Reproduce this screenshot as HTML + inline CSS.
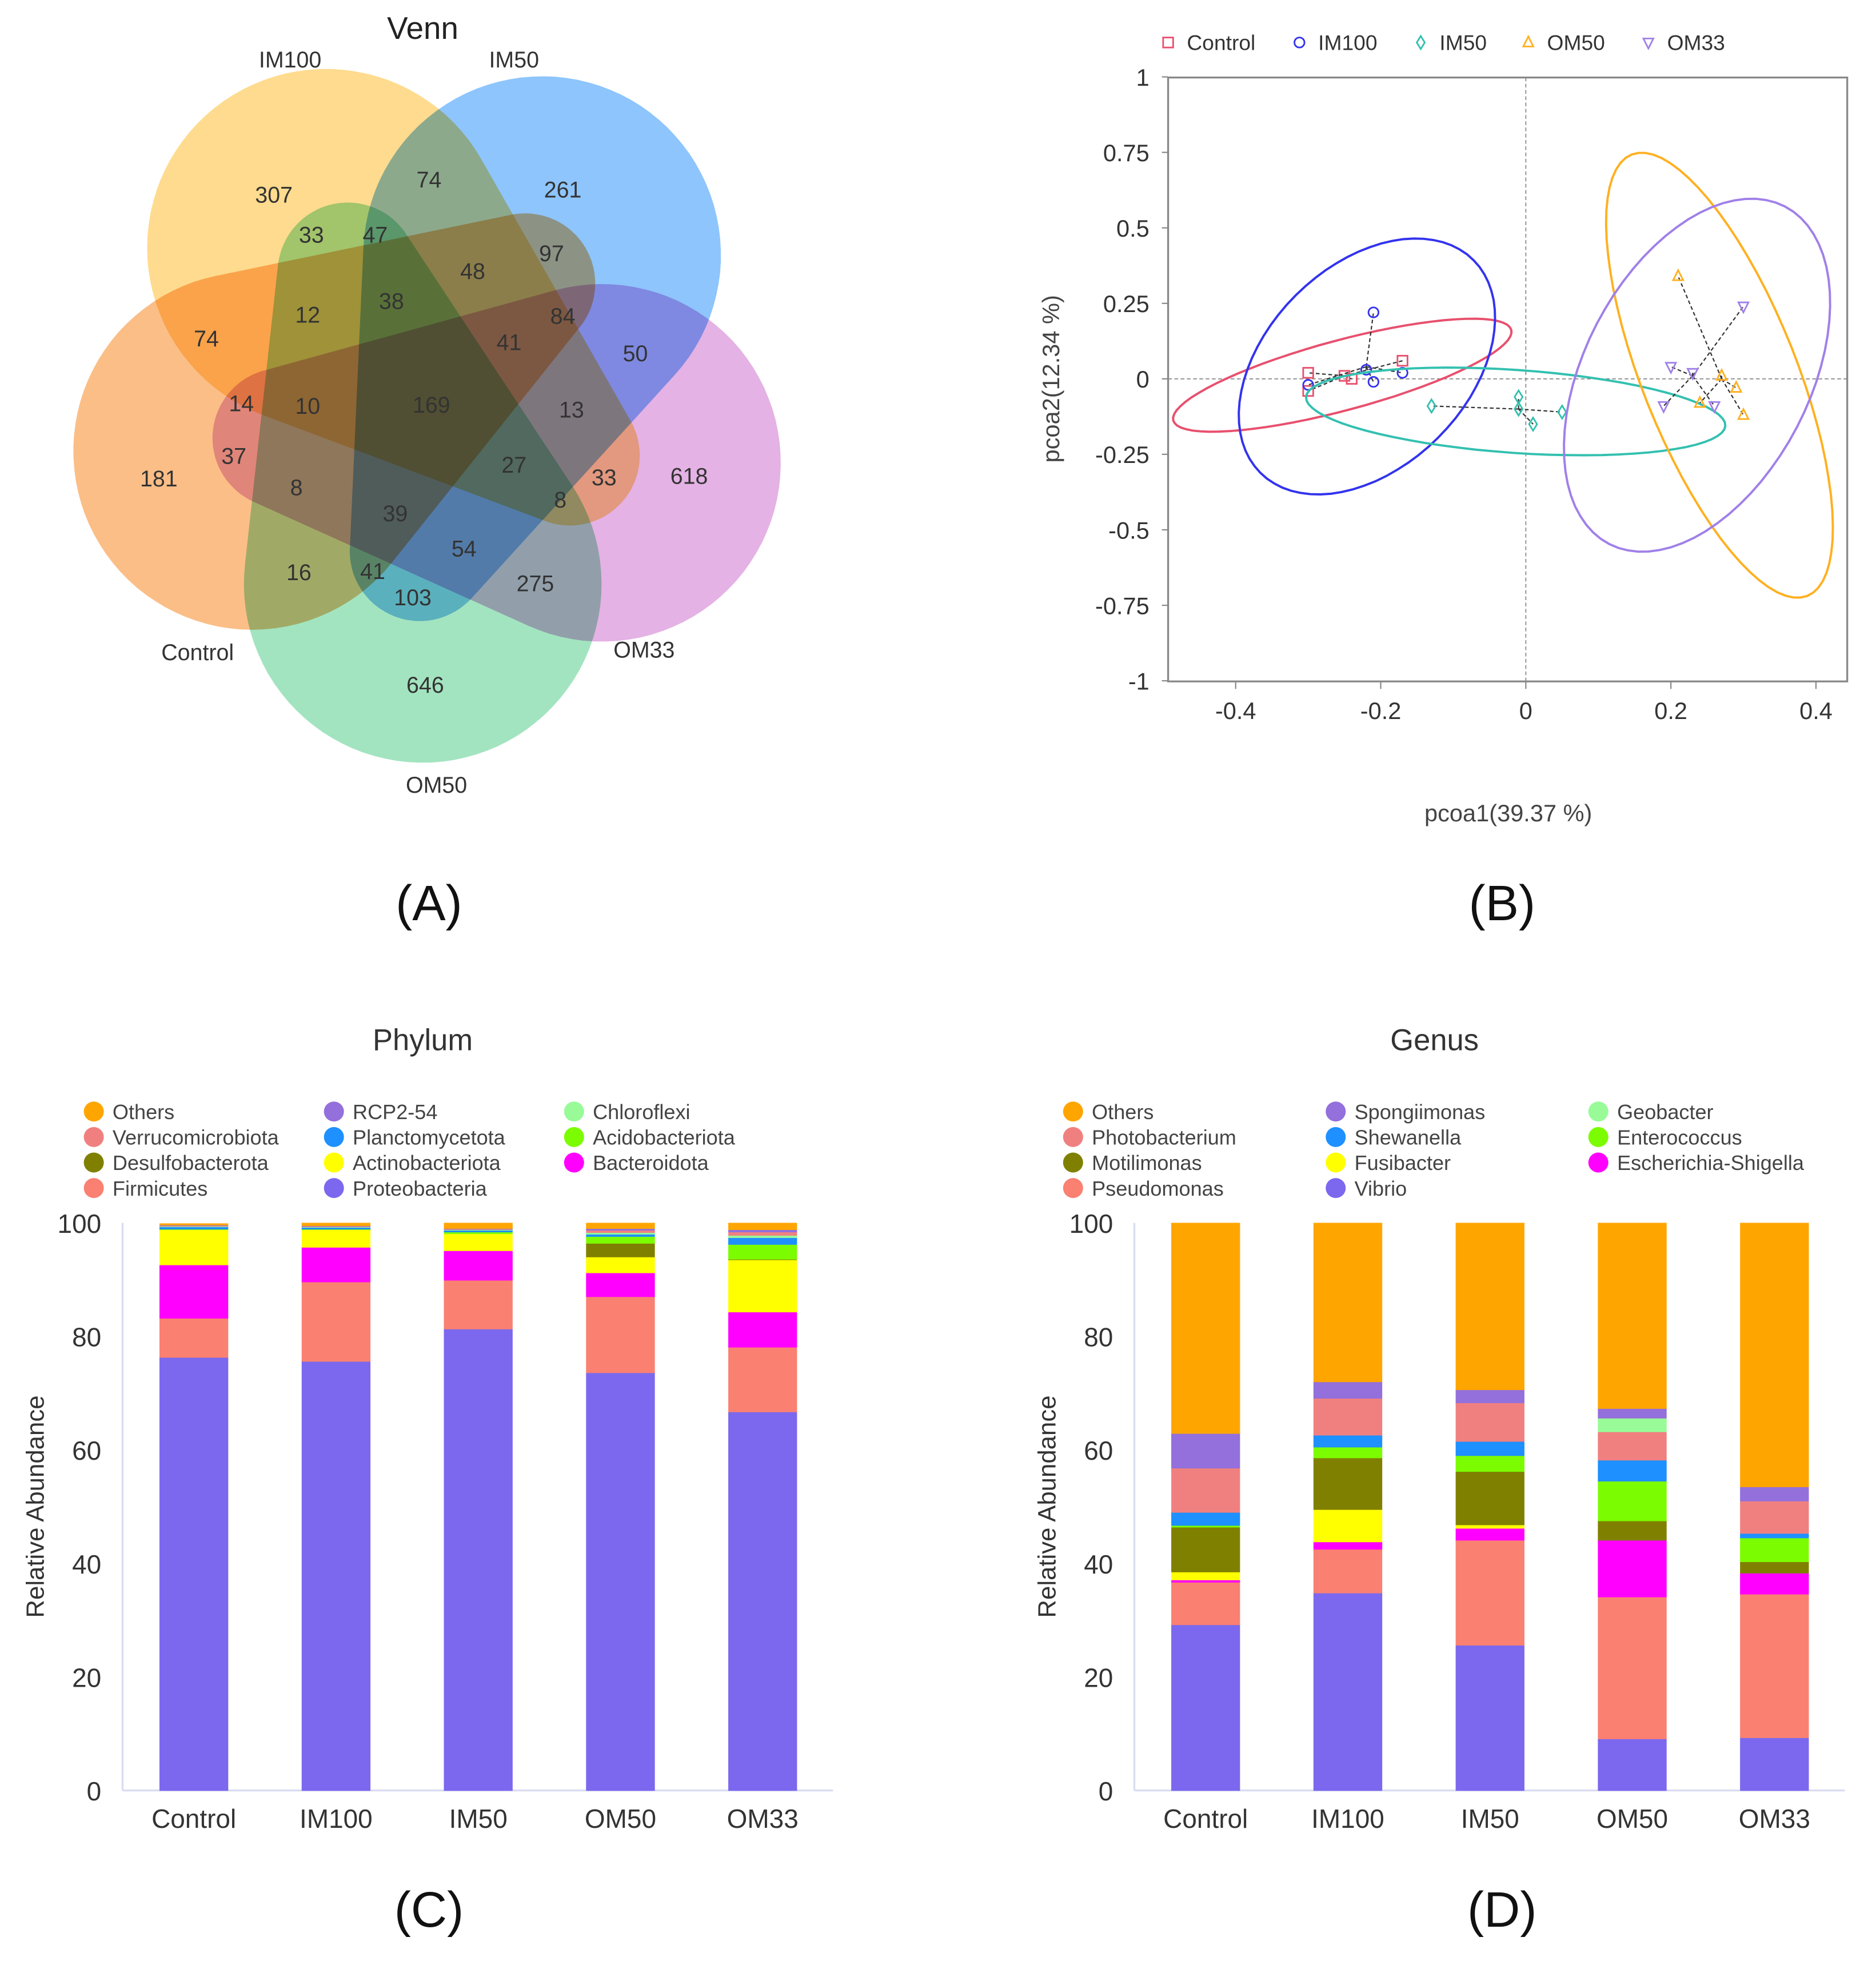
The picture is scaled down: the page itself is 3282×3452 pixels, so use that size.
<!DOCTYPE html>
<html><head><meta charset="utf-8"><style>
html,body{margin:0;padding:0;background:#fff}
svg{display:block;font-family:"Liberation Sans",Arial,sans-serif}
.vs{mix-blend-mode:multiply}
</style></head><body>
<svg id="root" xmlns="http://www.w3.org/2000/svg" width="3282" height="3452" viewBox="0 0 1500 1578" preserveAspectRatio="none">
<rect x="0" y="0" width="1500" height="1578" fill="#fff"/>
<g id="venn" style="isolation:isolate"></g>
<g id="pcoa"></g>
<g id="phylum"></g>
<g id="genus"></g>
<text x="343" y="736" font-size="40" text-anchor="middle" fill="#111">(A)</text>
<text x="1201" y="736" font-size="40" text-anchor="middle" fill="#111">(B)</text>
<text x="343" y="1541" font-size="40" text-anchor="middle" fill="#111">(C)</text>
<text x="1201" y="1541" font-size="40" text-anchor="middle" fill="#111">(D)</text>
</svg>
<script>
const NS="http://www.w3.org/2000/svg";
function mk(parent,tag,attrs,txt){const e=document.createElementNS(NS,tag);for(const k in attrs)e.setAttribute(k,attrs[k]);if(txt!==undefined)e.textContent=txt;parent.appendChild(e);return e;}

// ---------- Venn data ----------
const vennSets=["OM50","Control","IM100","IM50","OM33"];
const vennFills=["#A3E4C0","#FBBE87","#FEDB8E","#8EC5FC","#E4B2E4"];
const vennCounts=[307,74,261,33,47,97,48,12,38,84,74,41,50,14,10,169,13,37,27,33,618,181,8,39,8,54,16,41,275,103,646];
const vennCountPos=[[219,156],[343,144],[450,152],[249,188],[300,188],[441,203],[378,217],[246,252],[313,241],[450,253],[165,271],[407,274],[508,283],[193,323],[246,325],[345,324],[457,328],[187,365],[411,372],[483,382],[551,381],[127,383],[237,390],[316,411],[448,400],[371,439],[239,458],[298,457],[428,467],[330,478],[340,548]];
const vennLabelPos=[[349,634],[158,528],[232,54],[411,54],[515,526]];

// egg shape = convex hull of two circles
function eggPath(x1,y1,r1,x2,y2,r2){
  const dx=x2-x1,dy=y2-y1,d=Math.hypot(dx,dy),th=Math.atan2(dy,dx),ph=Math.acos((r1-r2)/d);
  let p=[];const N=60;
  for(let k=0;k<=N;k++){const a=th+ph+(2*Math.PI-2*ph)*k/N;p.push([x1+r1*Math.cos(a),y1+r1*Math.sin(a)]);}
  for(let k=0;k<=N;k++){const a=th-ph+(2*ph)*k/N;p.push([x2+r2*Math.cos(a),y2+r2*Math.sin(a)]);}
  return 'M'+p.map(q=>q[0].toFixed(1)+' '+q[1].toFixed(1)).join('L')+'Z';
}
const venn=document.getElementById('venn');
let t=mk(venn,'text',{x:338,y:31,'font-size':25,'text-anchor':'middle',fill:'#222'},'Venn');


const egg=eggPath(338,467,143,278,218,56);
vennSets.forEach((s,i)=>{
  const e=mk(venn,'path',{d:egg,transform:`rotate(${72*i} 343 320)`,fill:vennFills[i],class:'vs'});
  
  
});
vennSets.forEach((s,i)=>{
  const l=mk(venn,'text',{x:vennLabelPos[i][0],y:vennLabelPos[i][1],'font-size':18,'text-anchor':'middle',fill:'#333'},s);
  
  
});
vennCounts.forEach((c,i)=>{
  const n=mk(venn,'text',{x:vennCountPos[i][0],y:vennCountPos[i][1]+6,'font-size':18,'text-anchor':'middle',fill:'#333'},String(c));
  
  
});

// ---------- PCoA data ----------
const pcoaGroups=["Control","IM100","IM50","OM50","OM33"];
const pcoaColors=["#E8506E","#3333EE","#33C0B0","#FFB020","#A080E8"];
const pcoaX=[[-0.30,-0.30,-0.25,-0.24,-0.17],[-0.30,-0.22,-0.21,-0.21,-0.17],[-0.13,-0.01,-0.01,0.01,0.05],[0.21,0.24,0.27,0.29,0.30],[0.19,0.20,0.23,0.26,0.30]];
const pcoaY=[[0.02,-0.04,0.01,0.0,0.06],[-0.02,0.03,0.22,-0.01,0.02],[-0.09,-0.06,-0.10,-0.15,-0.11],[0.34,-0.08,0.01,-0.03,-0.12],[-0.09,0.04,0.02,-0.09,0.24]];
const centroidX=[-0.25,-0.22,-0.01,0.27,0.23];
const centroidY=[0.01,0.04,-0.10,0.0,0.01];
const ellCenterX=[-0.253,-0.219,-0.014,0.267,0.236];
const ellCenterY=[0.012,0.041,-0.108,0.012,0.012];
const ellMajor=[[0.233,0.15],[0.147,0.352],[0.289,-0.048],[0.121,-0.731],[0.121,0.559]];
const ellMinor=[[0.0126,-0.112],[0.098,-0.236],[-0.004,-0.137],[0.099,0.094],[0.138,-0.171]];
const pxTicks=[-0.4,-0.2,0,0.2,0.4];
const pyTicks=[1,0.75,0.5,0.25,0,-0.25,-0.5,-0.75,-1];
const pyTickLabels=["1","0.75","0.5","0.25","0","-0.25","-0.5","-0.75","-1"];

const px=v=>1220+v*580, py=v=>303-v*241.5;
const pc=document.getElementById('pcoa');
const PL=934,PR=1477,PT=62,PB=545;
let fr=mk(pc,'rect',{x:PL,y:PT,width:PR-PL,height:PB-PT,fill:'none',stroke:'#888','stroke-width':1.5});


mk(pc,'line',{x1:px(0),y1:PT,x2:px(0),y2:PB,stroke:'#888','stroke-width':0.8,'stroke-dasharray':'3 2'});
mk(pc,'line',{x1:PL,y1:py(0),x2:PR,y2:py(0),stroke:'#888','stroke-width':0.8,'stroke-dasharray':'3 2'});
pxTicks.forEach(v=>{
  mk(pc,'line',{x1:px(v),y1:PB,x2:px(v),y2:PB+6,stroke:'#888','stroke-width':1});
  const tl=mk(pc,'text',{x:px(v),y:PB+30,'font-size':19,'text-anchor':'middle',fill:'#333'},String(v));
  
  
});
pyTicks.forEach((v,i)=>{
  mk(pc,'line',{x1:PL-5,y1:py(v),x2:PL,y2:py(v),stroke:'#888','stroke-width':1});
  const tl=mk(pc,'text',{x:PL-15,y:py(v)+7,'font-size':19,'text-anchor':'end',fill:'#333'},pyTickLabels[i]);
  
  
});
t=mk(pc,'text',{x:1206,y:657,'font-size':19,'text-anchor':'middle',fill:'#444'},'pcoa1(39.37 %)');


t=mk(pc,'text',{x:0,y:0,'font-size':19,'text-anchor':'middle',fill:'#444',transform:'translate(847 303) rotate(-90)'},'pcoa2(12.34 %)');



function marker(g,shape,x,y,col,s){
  if(shape===0)return mk(g,'rect',{x:x-s,y:y-s,width:2*s,height:2*s,fill:'none',stroke:col,'stroke-width':1.3});
  if(shape===1)return mk(g,'circle',{cx:x,cy:y,r:s,fill:'none',stroke:col,'stroke-width':1.3});
  if(shape===2)return mk(g,'polygon',{points:`${x},${y-s*1.3} ${x+s*0.8},${y} ${x},${y+s*1.3} ${x-s*0.8},${y}`,fill:'none',stroke:col,'stroke-width':1.3});
  if(shape===3)return mk(g,'polygon',{points:`${x},${y-s*1.2} ${x+s},${y+s*0.8} ${x-s},${y+s*0.8}`,fill:'none',stroke:col,'stroke-width':1.3});
  return mk(g,'polygon',{points:`${x},${y+s*1.2} ${x+s},${y-s*0.8} ${x-s},${y-s*0.8}`,fill:'none',stroke:col,'stroke-width':1.3});
}
const legX=[934,1039,1136,1222,1318];
pcoaGroups.forEach((g,gi)=>{
  const grp=mk(pc,'g',{});
  
  
  let d='';
  for(let k=0;k<=72;k++){const a=k/72*2*Math.PI;const X=ellCenterX[gi]+ellMajor[gi][0]*Math.cos(a)+ellMinor[gi][0]*Math.sin(a);const Y=ellCenterY[gi]+ellMajor[gi][1]*Math.cos(a)+ellMinor[gi][1]*Math.sin(a);d+=(k?'L':'M')+px(X).toFixed(1)+' '+py(Y).toFixed(1);}
  const el=mk(grp,'path',{d:d+'Z',fill:'none',stroke:pcoaColors[gi],'stroke-width':1.8});
  
  
  pcoaX[gi].forEach((xv,j)=>{
    mk(grp,'line',{x1:px(centroidX[gi]),y1:py(centroidY[gi]),x2:px(xv),y2:py(pcoaY[gi][j]),stroke:'#333','stroke-width':1,'stroke-dasharray':'3 2'});
  });
  pcoaX[gi].forEach((xv,j)=>{
    const m=marker(grp,gi,px(xv),py(pcoaY[gi][j]),pcoaColors[gi],4);
    
    
  });
  const lm=marker(pc,gi,legX[gi],34,pcoaColors[gi],4);
  
  
  const lt=mk(pc,'text',{x:legX[gi]+15,y:40,'font-size':17,fill:'#333'},g);
  
  
});

// ---------- Bar chart data ----------
const barCategories=["Control","IM100","IM50","OM50","OM33"];
const yTicks=[0,20,40,60,80,100];
const phylumColors=["#7B68EE","#FA8072","#FF00FF","#FFFF00","#808000","#7CFC00","#1E90FF","#98FB98","#F08080","#9370DB","#FFA500"];
const phylumNames=["Proteobacteria","Firmicutes","Bacteroidota","Actinobacteriota","Desulfobacterota","Acidobacteriota","Planctomycetota","Chloroflexi","Verrucomicrobiota","RCP2-54","Others"];
const phylumProteobacteria=[76.3,75.6,81.3,73.6,66.7];
const phylumFirmicutes=[6.9,14.0,8.6,13.4,11.4];
const phylumBacteroidota=[9.4,6.1,5.2,4.2,6.2];
const phylumActinobacteriota=[6.2,3.1,3.0,2.8,9.2];
const phylumDesulfobacterota=[0,0,0,2.4,0.1];
const phylumAcidobacteriota=[0.1,0.1,0.3,1.2,2.6];
const phylumPlanctomycetota=[0.4,0.3,0.3,0.4,1.2];
const phylumChloroflexi=[0.1,0.1,0.1,0.3,0.4];
const phylumVerrucomicrobiota=[0.1,0.1,0.1,0.4,0.6];
const phylumRCP254=[0.1,0.1,0.1,0.3,0.4];
const phylumOthers=[0.3,0.5,1.0,1.0,1.2];
const phylumLegendOrder=[10,8,4,1,9,6,3,0,7,5,2];
const genusColors=["#7B68EE","#FA8072","#FF00FF","#FFFF00","#808000","#7CFC00","#1E90FF","#F08080","#98FB98","#9370DB","#FFA500"];
const genusNames=["Vibrio","Pseudomonas","Escherichia-Shigella","Fusibacter","Motilimonas","Enterococcus","Shewanella","Photobacterium","Geobacter","Spongiimonas","Others"];
const genusVibrio=[29.2,34.8,25.6,9.1,9.3];
const genusPseudomonas=[7.5,7.7,18.5,25.0,25.3];
const genusEscherichia=[0.4,1.3,2.1,10.0,3.7];
const genusFusibacter=[1.4,5.7,0.6,0,0];
const genusMotilimonas=[7.9,9.1,9.4,3.4,2.0];
const genusEnterococcus=[0.3,1.9,2.8,7.0,4.2];
const genusShewanella=[2.3,2.1,2.5,3.7,0.8];
const genusPhotobacterium=[7.8,6.5,6.8,5.0,5.7];
const genusGeobacter=[0,0,0,2.4,0];
const genusSpongiimonas=[6.1,2.9,2.3,1.7,2.5];
const genusOthers=[37.1,28.0,29.4,32.7,46.5];
const genusLegendOrder=[10,7,4,1,9,6,3,0,8,5,2];

const phylumSeries=[phylumProteobacteria,phylumFirmicutes,phylumBacteroidota,phylumActinobacteriota,phylumDesulfobacterota,phylumAcidobacteriota,phylumPlanctomycetota,phylumChloroflexi,phylumVerrucomicrobiota,phylumRCP254,phylumOthers];
const genusSeries=[genusVibrio,genusPseudomonas,genusEscherichia,genusFusibacter,genusMotilimonas,genusEnterococcus,genusShewanella,genusPhotobacterium,genusGeobacter,genusSpongiimonas,genusOthers];

function barChart(root,x0,title,names,series,colors,legendOrder,legCols){
  const by=v=>1432-v*4.54;
  const step=113.7, first=x0+57, bw=55;
  const bx=i=>first+i*step;
  const tt=mk(root,'text',{x:x0+240,y:840,'font-size':24,'text-anchor':'middle',fill:'#333'},title);
  
  
  mk(root,'line',{x1:x0,y1:978,x2:x0,y2:1432,stroke:'#d8dcf0','stroke-width':1.5});
  mk(root,'line',{x1:x0,y1:1432,x2:x0+568,y2:1432,stroke:'#d8dcf0','stroke-width':1.5});
  yTicks.forEach(v=>{
    const l=mk(root,'text',{x:x0-17,y:by(v)+8,'font-size':21,'text-anchor':'end',fill:'#333'},String(v));
    
    
  });
  const yt=mk(root,'text',{x:0,y:0,'font-size':20,'text-anchor':'middle',fill:'#333',transform:`translate(${x0-63} 1205) rotate(-90)`},'Relative Abundance');
  
  
  barCategories.forEach((c,i)=>{
    let cum=0;
    series.forEach((s,k)=>{
      const v=s[i]; if(v<=0){return;}
      const r=mk(root,'rect',{x:bx(i)-bw/2,y:by(cum+v),width:bw,height:by(cum)-by(cum+v)+0.3,fill:colors[k]});
      
      
      cum+=v;
    });
    const xl=mk(root,'text',{x:bx(i),y:1462,'font-size':21,'text-anchor':'middle',fill:'#333'},c);
    
    
  });
  legendOrder.forEach((k,j)=>{
    const col=Math.floor(j/4), row=j%4;
    const cx=legCols[col], cy=889+row*20.4;
    const dot=mk(root,'circle',{cx:cx,cy:cy,r:8,fill:colors[k]});
    
    
    const lt=mk(root,'text',{x:cx+15,y:cy+6,'font-size':16.5,fill:'#444'},names[k]);
    
    
  });
}
barChart(document.getElementById('phylum'),98,'Phylum',phylumNames,phylumSeries,phylumColors,phylumLegendOrder,[75,267,459]);
barChart(document.getElementById('genus'),907,'Genus',genusNames,genusSeries,genusColors,genusLegendOrder,[858,1068,1278]);
</script>
</body></html>
